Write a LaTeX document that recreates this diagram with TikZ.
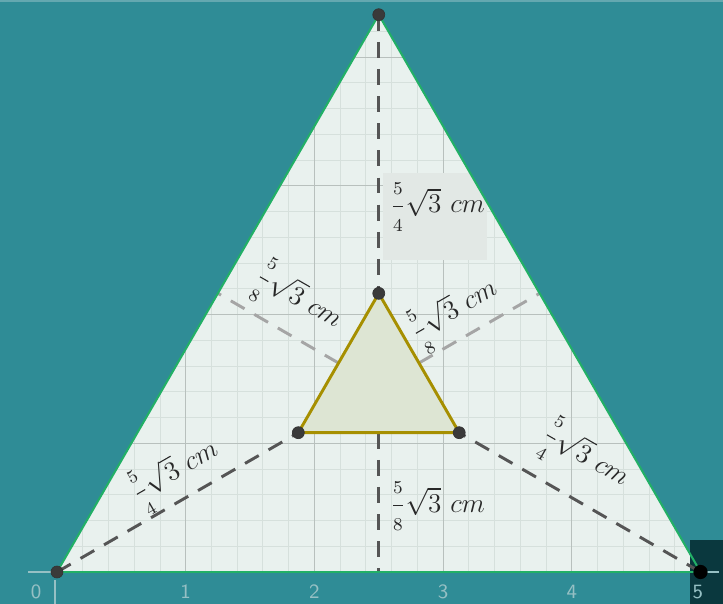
\documentclass[tikz,border=0pt]{standalone}
\usepackage{amsmath}
\definecolor{bg}{RGB}{47,140,150}
\definecolor{topln}{RGB}{100,168,176}
\definecolor{trifill}{RGB}{233,241,238}
\definecolor{minorc}{RGB}{214,224,220}
\definecolor{majorc}{RGB}{184,192,189}
\definecolor{greenedge}{RGB}{34,176,102}
\definecolor{olive}{RGB}{166,143,0}
\definecolor{innerfill}{RGB}{221,229,211}
\definecolor{darkdash}{RGB}{85,85,85}
\definecolor{lightdash}{RGB}{165,165,165}
\definecolor{ptc}{RGB}{58,58,58}
\definecolor{darkrect}{RGB}{10,56,62}
\definecolor{tickc}{RGB}{150,192,196}
\definecolor{labbg}{RGB}{226,232,229}
\definecolor{labc}{RGB}{40,40,40}
\tikzset{
  minorgrid/.style={draw=minorc, line width=0.4pt},
  majorgrid/.style={draw=majorc, line width=0.5pt},
  dashdark/.style={draw=darkdash, line width=1.3pt, dash pattern=on 7pt off 5pt},
  dashlight/.style={draw=lightdash, line width=1.3pt, dash pattern=on 7pt off 5pt},
  outeredge/.style={draw=greenedge, line width=0.9pt},
  inneredge/.style={draw=olive, line width=1.3pt, line join=round},
  pt/.style={circle, fill=ptc, draw=black!80, line width=0.3pt, inner sep=0pt, minimum size=5.3pt},
  ptblack/.style={circle, fill=black, inner sep=0pt, minimum size=6.3pt},
  meas/.style={inner sep=0pt, text=labc, font=\fontsize{12}{14}\selectfont},
  ticklab/.style={text=tickc, font=\sffamily\fontsize{9}{10}\selectfont, inner sep=0pt},
  axisext/.style={draw=tickc, line width=0.6pt}
}
\newcommand{\measlab}[1]{$\dfrac{\scriptstyle 5}{\scriptstyle #1}\sqrt{3}\ cm$}
\begin{document}
\begin{tikzpicture}[x=2cm,y=2cm]
\useasboundingbox (-0.4429,-0.2486) rectangle (5.1748,4.4444);
\fill[bg] (-0.4429,-0.2486) rectangle (5.1748,4.4444);
\coordinate (TL) at (-0.4429,4.4366);
\coordinate (TR) at (5.1748,4.4366);
\draw[topln, line width=0.5pt] (TL) -- (TR);
% big triangle
\coordinate (A) at (0,0);
\coordinate (B) at (5,0);
\coordinate (C) at (2.5,4.3301);
\fill[trifill] (A) -- (B) -- (C) -- cycle;
\begin{scope}
  \clip (A) -- (B) -- (C) -- cycle;
  \draw[minorgrid, step=0.2] (0,0) grid (5,4.4);
  \draw[majorgrid, step=1] (0,0) grid (5,4.4);
  \fill[labbg] (2.533,2.424) rectangle (3.341,3.100);
\end{scope}
% axis extensions and ticks
\coordinate (AL) at (-0.2253,0);
\coordinate (BR) at (5.1437,0);
\coordinate (T0) at (-0.0155,-0.2486);
\coordinate (T0b) at (-0.0155,-0.0622);
\draw[axisext] (AL) -- (A);
\draw[axisext] (T0) -- (T0b);
% dark rectangle at bottom right
\fill[darkrect] (4.918,-0.2486) rectangle (5.1748,0.2486);
\draw[axisext] (B) -- (BR);
\node[ticklab] (t0) at (-0.1632,-0.1554) {0};
\node[ticklab] (t1) at (1,-0.1554) {1};
\node[ticklab] (t2) at (2,-0.1554) {2};
\node[ticklab] (t3) at (3,-0.1554) {3};
\node[ticklab] (t4) at (4,-0.1554) {4};
\node[ticklab] (t5) at (4.98,-0.1554) {5};
% inner triangle points
\coordinate (P1) at (2.5,2.1651);
\coordinate (P2) at (1.875,1.0825);
\coordinate (P3) at (3.125,1.0825);
\coordinate (ML) at (2.1875,1.6238);
\coordinate (MR) at (2.8125,1.6238);
\coordinate (MB) at (2.5,1.0825);
\coordinate (FL) at (1.25,2.1651);
\coordinate (FR) at (3.75,2.1651);
\coordinate (FB) at (2.5,0);
% dashed segments
\draw[dashlight] (ML) -- (FL);
\draw[dashlight] (MR) -- (FR);
\draw[dashdark] (C) -- (P1);
\draw[dashdark] (A) -- (P2);
\draw[dashdark] (B) -- (P3);
\draw[dashdark] (MB) -- (FB);
% inner triangle
\fill[innerfill] (P1) -- (P2) -- (P3) -- cycle;
\draw[inneredge] (P1) -- (P2) -- (P3) -- cycle;
% outer edges
\draw[outeredge] (A) -- (C) -- (B);
\draw[draw=greenedge, line width=1.2pt] (A) -- (B);
% points
\node[pt] (pA) at (A) {};
\node[pt] (pC) at (C) {};
\node[ptblack] (pB) at (B) {};
\node[pt] (pP1) at (P1) {};
\node[pt] (pP2) at (P2) {};
\node[pt] (pP3) at (P3) {};
% labels
\node[meas, anchor=base west] (lt) at (2.5874,2.7894) {\measlab{4}};
\node[meas, anchor=base west] (lb) at (2.5874,0.4662) {\measlab{8}};
\node[meas, rotate=-30] (lul) at (1.8726,2.1134) {\measlab{8}};
\node[meas, rotate=30] (lur) at (3.0925,2.0202) {\measlab{8}};
\node[meas, rotate=30] (lll) at (0.9246,0.7692) {\measlab{4}};
\node[meas, rotate=-30] (llr) at (4.1026,0.8858) {\measlab{4}};
\end{tikzpicture}
\end{document}
